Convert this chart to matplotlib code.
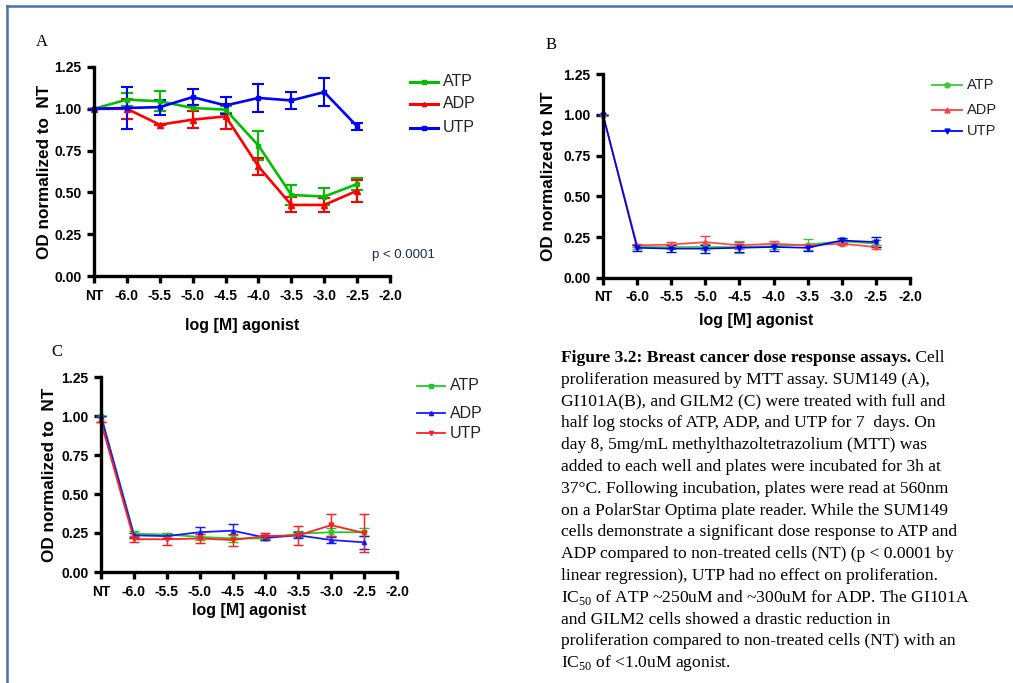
import matplotlib
matplotlib.use("Agg")
import matplotlib.pyplot as plt
from matplotlib.lines import Line2D

plt.rcParams['font.family'] = ['Liberation Sans', 'DejaVu Sans']
plt.rcParams['mathtext.fontset'] = 'custom'
plt.rcParams['mathtext.rm'] = 'Liberation Serif'

# ---------------- data ----------------
doses = [-6.5, -6.0, -5.5, -5.0, -4.5, -4.0, -3.5, -3.0, -2.5]   # -6.5 is the NT position
xtick_pos = [-6.5, -6.0, -5.5, -5.0, -4.5, -4.0, -3.5, -3.0, -2.5, -2.0]
xtick_labels = ['NT', '-6.0', '-5.5', '-5.0', '-4.5', '-4.0', '-3.5', '-3.0', '-2.5', '-2.0']
ytick_pos = [0.0, 0.25, 0.5, 0.75, 1.0, 1.25]
ytick_labels = ['0.00', '0.25', '0.50', '0.75', '1.00', '1.25']

# Panel A (SUM149)
a_atp = [1.00, 1.055, 1.045, 1.005, 0.995, 0.78, 0.485, 0.475, 0.55]
a_atp_err = [0.0, 0.04, 0.06, 0.02, 0.02, 0.085, 0.06, 0.05, 0.035]
a_adp = [1.00, 1.00, 0.905, 0.935, 0.955, 0.655, 0.425, 0.425, 0.51]
a_adp_err = [0.0, 0.06, 0.0, 0.05, 0.075, 0.05, 0.045, 0.04, 0.065]
a_utp = [1.00, 1.005, 1.01, 1.07, 1.02, 1.065, 1.05, 1.10, 0.895]
a_utp_err = [0.0, 0.125, 0.045, 0.05, 0.05, 0.085, 0.05, 0.085, 0.02]

# Panel B (GI101A)
b_atp = [1.00, 0.19, 0.19, 0.19, 0.19, 0.195, 0.205, 0.225, 0.21]
b_atp_err = [0.0, 0.015, 0.015, 0.02, 0.035, 0.02, 0.035, 0.015, 0.02]
b_adp = [1.00, 0.20, 0.205, 0.22, 0.20, 0.21, 0.20, 0.21, 0.19]
b_adp_err = [0.0, 0.01, 0.015, 0.035, 0.02, 0.015, 0.01, 0.01, 0.015]
b_utp = [1.00, 0.185, 0.18, 0.18, 0.185, 0.19, 0.185, 0.23, 0.22]
b_utp_err = [0.0, 0.02, 0.02, 0.025, 0.025, 0.025, 0.02, 0.015, 0.03]

# Panel C (GILM2)
c_atp = [1.00, 0.245, 0.24, 0.225, 0.215, 0.215, 0.245, 0.255, 0.255]
c_atp_err = [0.0, 0.015, 0.01, 0.02, 0.02, 0.01, 0.02, 0.025, 0.025]
c_adp = [1.00, 0.235, 0.23, 0.255, 0.265, 0.22, 0.235, 0.205, 0.19]
c_adp_err = [0.0, 0.015, 0.015, 0.035, 0.045, 0.015, 0.02, 0.02, 0.04]
c_utp = [0.96, 0.21, 0.21, 0.215, 0.205, 0.23, 0.235, 0.30, 0.25]
c_utp_err = [0.0, 0.015, 0.035, 0.03, 0.04, 0.02, 0.06, 0.07, 0.12]

series_names = ['ATP', 'ADP', 'UTP']

W, H = 1013, 683
fig = plt.figure(figsize=(W / 100, H / 100), dpi=100)


def px_axes(x0, x1, y_top, y_bot):
    return fig.add_axes([x0 / W, 1 - y_bot / H, (x1 - x0) / W, (y_bot - y_top) / H])


def style_axes(ax, spine_w=2.4, tfs=10):
    ax.set_xlim(-6.5, -2.0)
    ax.set_ylim(0, 1.25)
    for s in ['top', 'right']:
        ax.spines[s].set_visible(False)
    for s in ['left', 'bottom']:
        ax.spines[s].set_linewidth(spine_w)
    ax.set_xticks(xtick_pos)
    ax.set_xticklabels(xtick_labels, fontsize=tfs, fontweight='bold')
    ax.set_yticks(ytick_pos)
    ax.set_yticklabels(ytick_labels, fontsize=tfs, fontweight='bold')
    ax.tick_params(direction='out', length=5, width=spine_w, pad=4)
    ax.patch.set_alpha(0)


def draw(ax, y, err, color, marker, lw, ms, capsize=4):
    ax.errorbar(doses, y, yerr=err, color=color, lw=lw, marker=marker, ms=ms,
                elinewidth=lw * 0.8, capsize=capsize, capthick=lw * 0.8, clip_on=False)


def labels(ax, xpad, ylab, ycoord_x):
    ax.set_xlabel('log [M] agonist', fontsize=11.5, fontweight='bold', labelpad=xpad)
    ax.set_ylabel(ylab, fontsize=12.3, fontweight='bold')
    ax.yaxis.set_label_coords(ycoord_x, 0.5)


# ---------- Panel A ----------
axA = px_axes(94, 390, 67, 276)
style_axes(axA)
draw(axA, a_atp, a_atp_err, '#00c000', 's', 1.9, 3.5)
draw(axA, a_adp, a_adp_err, '#ff0000', '^', 1.9, 4)
draw(axA, a_utp, a_utp_err, '#0000ff', 's', 1.9, 3.5)
labels(axA, 11, 'OD normalized to  NT', -0.142)
fig.text(403 / W, 1 - 255 / H, 'p < 0.0001', fontsize=9.5, color='#1a2a4a',
         ha='center', va='center')
fig.text(42 / W, 1 - 42 / H, 'A', fontsize=12, family='Liberation Serif',
         ha='center', va='center')

# ---------- Panel B ----------
axB = px_axes(603, 910, 74, 278)
style_axes(axB)
draw(axB, b_atp, b_atp_err, '#33cc33', 'o', 1.2, 3.5, 3.5)
draw(axB, b_adp, b_adp_err, '#ff4040', '^', 1.2, 3, 3.5)
draw(axB, b_utp, b_utp_err, '#0000ff', 'v', 1.2, 3.5, 3.5)
labels(axB, 6, 'OD normalized to NT', -0.153)
fig.text(551 / W, 1 - 45 / H, 'B', fontsize=12, family='Liberation Serif',
         ha='center', va='center')

# ---------- Panel C ----------
axC = px_axes(101, 397, 377, 572)
style_axes(axC)
draw(axC, c_atp, c_atp_err, '#22cc22', 's', 1.3, 3, 3.5)
draw(axC, c_adp, c_adp_err, '#1a1aff', '^', 1.3, 3, 3.5)
draw(axC, c_utp, c_utp_err, '#ff2020', 'v', 1.3, 3.5, 3.5)
labels(axC, 3, 'OD normalized to  NT', -0.149)
fig.text(57 / W, 1 - 352 / H, 'C', fontsize=12, family='Liberation Serif',
         ha='center', va='center')


# ---------- legends (drawn manually in pixel space) ----------
def legend(x0, x1, ys, colors, markers, lw, ms, fs):
    for name, yy, c, m in zip(series_names, ys, colors, markers):
        fig.add_artist(Line2D([x0 / W, x1 / W], [1 - yy / H, 1 - yy / H], color=c, lw=lw,
                              transform=fig.transFigure))
        fig.add_artist(Line2D([(x0 + x1) / 2 / W], [1 - yy / H], color=c, marker=m, ms=ms,
                              lw=0, transform=fig.transFigure))
        fig.text((x1 + 5) / W, 1 - yy / H, name, fontsize=fs, ha='left', va='center',
                 color='#222222')


legend(410, 438, [82, 104, 128], ['#00c000', '#ff0000', '#0000ff'], ['s', '^', 's'], 2.2, 3, 11.5)
legend(932, 962, [85, 110, 131], ['#33cc33', '#ff4040', '#0000ff'], ['o', '^', 'v'], 1.3, 3.5, 10.5)
legend(417, 445, [386, 413, 433], ['#22cc22', '#1a1aff', '#ff2020'], ['s', '^', 'v'], 1.3, 3, 11.5)

# ---------- caption ----------
cap_lines = [
    None,
    "proliferation measured by MTT assay. SUM149 (A),",
    "GI101A(B), and GILM2 (C) were treated with full and",
    "half log stocks of ATP, ADP, and UTP for 7  days. On",
    "day 8, 5mg/mL methylthazoltetrazolium (MTT) was",
    "added to each well and plates were incubated for 3h at",
    "37\u00b0C. Following incubation, plates were read at 560nm",
    "on a PolarStar Optima plate reader. While the SUM149",
    "cells demonstrate a significant dose response to ATP and",
    "ADP compared to non-treated cells (NT) (p < 0.0001 by",
    "linear regression), UTP had no effect on proliferation.",
    r"IC$_{\mathrm{50}}$ of ATP ~250uM and ~300uM for ADP. The GI101A",
    "and GILM2 cells showed a drastic reduction in",
    "proliferation compared to non-treated cells (NT) with an",
    r"IC$_{\mathrm{50}}$ of <1.0uM agonist.",
]
cap_x = 561
cap_y0 = 358
cap_dy = 21.8
cap_fs = 12.6
serif = 'Liberation Serif'

t_bold = fig.text(cap_x / W, 1 - cap_y0 / H, "Figure 3.2: Breast cancer dose response assays.",
                  fontsize=cap_fs, fontweight='bold', family=serif, va='center', ha='left')
renderer = fig.canvas.get_renderer()
bb = t_bold.get_window_extent(renderer)
fig.text(bb.x1 / W, 1 - cap_y0 / H, " Cell", fontsize=cap_fs, family=serif,
         va='center', ha='left')
for i, line in enumerate(cap_lines):
    if line is None:
        continue
    fig.text(cap_x / W, 1 - (cap_y0 + i * cap_dy) / H, line, fontsize=cap_fs, family=serif,
             va='center', ha='left')

# ---------- frame ----------
fcol = '#4a6fa8'
fig.add_artist(Line2D([7 / W, 1.0], [1 - 6 / H, 1 - 6 / H], color=fcol, lw=1.8,
                      transform=fig.transFigure))
fig.add_artist(Line2D([7 / W, 7 / W], [1 - 6 / H, 0], color=fcol, lw=1.8,
                      transform=fig.transFigure))

fig.savefig('out.png', dpi=100)
